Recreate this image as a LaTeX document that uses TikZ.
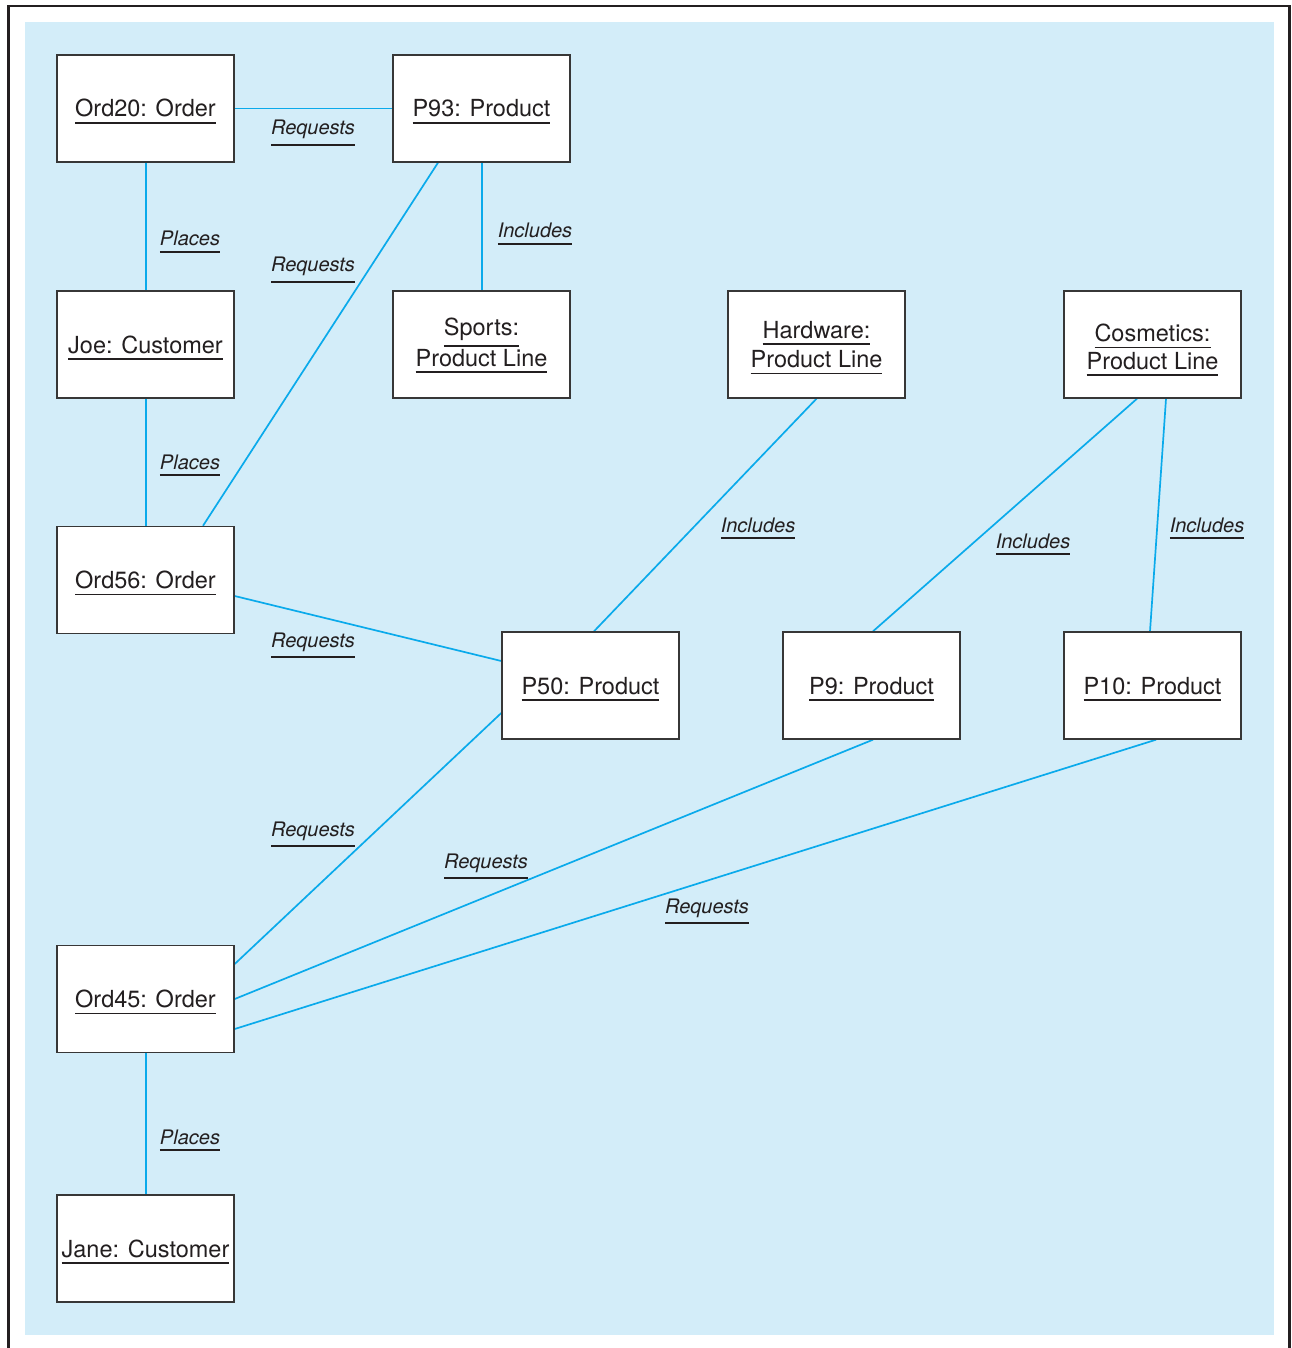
\documentclass[tikz,border=0pt]{standalone}
\usepackage{fontspec}
\setmainfont{TeX Gyre Heros}
\usetikzlibrary{calc}
\definecolor{bgblue}{RGB}{211,237,249}
\definecolor{linkcol}{RGB}{10,170,235}
\definecolor{ink}{RGB}{35,31,32}
\definecolor{boxline}{RGB}{55,55,55}
\newcommand\ulx[1]{\leavevmode\vtop{\hbox{#1}\kern4.8pt\hrule height 1.6pt}}
\pgfdeclarelayer{back}
\pgfdeclarelayer{lines}
\pgfsetlayers{back,lines,main}
\tikzset{
  objbox/.style={draw=boxline, line width=1.4pt, fill=white, rectangle,
    minimum width=177pt, minimum height=107pt, inner sep=0pt},
  objtext/.style={anchor=base, inner sep=0pt, text=ink,
    font=\fontsize{23.5pt}{28pt}\selectfont},
  linklabel/.style={anchor=base, inner sep=0pt, text=ink,
    font=\fontsize{20pt}{24pt}\selectfont\itshape},
  link/.style={draw=linkcol, line width=1.7pt},
  vlink/.style={draw=linkcol, line width=2pt}
}
\begin{document}
\begin{tikzpicture}[x=1pt,y=-1pt]
\useasboundingbox (0,0) rectangle (1291,1348);
\begin{pgfonlayer}{back}
\fill[bgblue] (25,22) rectangle (1274,1335);
\draw[ink, line width=2.5pt] (8.5,1348) -- (8.5,6) -- (1289.5,6) -- (1289.5,1348);
\end{pgfonlayer}

% boxes
\node[objbox] (ord20) at (145.5,108.5) {};
\node[objbox] (p93)   at (481.5,108.5) {};
\node[objbox] (joe)   at (145.5,344.5) {};
\node[objbox] (sports) at (481.5,344.5) {};
\node[objbox] (hard)  at (816.5,344.5) {};
\node[objbox] (cosm)  at (1152.5,344.5) {};
\node[objbox] (ord56) at (145.5,580) {};
\node[objbox] (p50)   at (590.5,685.5) {};
\node[objbox] (p9)    at (871.5,685.5) {};
\node[objbox] (p10)   at (1152.5,685.5) {};
\node[objbox] (ord45) at (145.5,999) {};
\node[objbox] (jane)  at (145.5,1248.5) {};

% box texts
\node[objtext] (ord20t) at ([yshift=-8.5pt]ord20.center) {\ulx{Ord20: Order}};
\node[objtext] (p93t) at ([yshift=-8.5pt]p93.center) {\ulx{P93: Product}};
\node[objtext] (joet) at ([yshift=-8.5pt]joe.center) {\ulx{Joe: Customer}};
\node[objtext] (sportsa) at ([yshift=9.5pt]sports.center) {\ulx{Sports:}};
\node[objtext] (sportsb) at ([yshift=-21.5pt]sports.center) {\ulx{Product Line}};
\node[objtext] (harda) at ([yshift=6.5pt]hard.center) {\ulx{Hardware:}};
\node[objtext] (hardb) at ([yshift=-23pt]hard.center) {\ulx{Product Line}};
\node[objtext] (cosma) at ([yshift=3pt]cosm.center) {\ulx{Cosmetics:}};
\node[objtext] (cosmb) at ([yshift=-24.5pt]cosm.center) {\ulx{Product Line}};
\node[objtext] (ord56t) at ([yshift=-8.5pt]ord56.center) {\ulx{Ord56: Order}};
\node[objtext] (p50t) at ([yshift=-8.5pt]p50.center) {\ulx{P50: Product}};
\node[objtext] (p9t) at ([yshift=-8.5pt]p9.center) {\ulx{P9: Product}};
\node[objtext] (p10t) at ([yshift=-8.5pt]p10.center) {\ulx{P10: Product}};
\node[objtext] (ord45t) at ([yshift=-8.5pt]ord45.center) {\ulx{Ord45: Order}};
\node[objtext] (janet) at ([yshift=-8.5pt]jane.center) {\ulx{Jane: Customer}};

% connectors
\begin{pgfonlayer}{lines}
\draw[link] (ord20.east) -- (p93.west);
\draw[vlink] ([xshift=0.5pt]ord20.south) -- ([xshift=0.5pt]joe.north);
\draw[vlink] ([xshift=0.5pt]p93.south) -- ([xshift=0.5pt]sports.north);
\draw[link] ([xshift=-43.5pt]p93.south) -- ([xshift=57.5pt]ord56.north);
\draw[vlink] ([xshift=0.5pt]joe.south) -- ([xshift=0.5pt]ord56.north);
\draw[link] (hard.south) -- ([xshift=3.5pt]p50.north);
\draw[link] ([xshift=-15.5pt]cosm.south) -- ([xshift=1.5pt]p9.north);
\draw[link] ([xshift=13.5pt]cosm.south) -- ([xshift=-2.5pt]p10.north);
\draw[link] ([yshift=-16pt]ord56.east) -- ([yshift=24.5pt]p50.west);
\draw[link] ([yshift=-27.5pt]p50.west) -- ([yshift=35pt]ord45.east);
\draw[link] ([xshift=1.5pt]p9.south) -- (ord45.east);
\draw[link] ([xshift=3.5pt]p10.south) -- ([yshift=-30pt]ord45.east);
\draw[vlink] ([xshift=0.5pt]ord45.south) -- ([xshift=0.5pt]jane.north);
\end{pgfonlayer}

% connector labels
\node[linklabel] (l1) at (313,135) {\ulx{Requests}};
\node[linklabel] (l2) at (190,246) {\ulx{Places}};
\node[linklabel] (l3) at (535,238) {\ulx{Includes}};
\node[linklabel] (l4) at (313,272) {\ulx{Requests}};
\node[linklabel] (l5) at (190,469) {\ulx{Places}};
\node[linklabel] (l6) at (758,532) {\ulx{Includes}};
\node[linklabel] (l7) at (1033,548) {\ulx{Includes}};
\node[linklabel] (l8) at (1207,532) {\ulx{Includes}};
\node[linklabel] (l9) at (313,647) {\ulx{Requests}};
\node[linklabel] (l10) at (313,836) {\ulx{Requests}};
\node[linklabel] (l11) at (486,868) {\ulx{Requests}};
\node[linklabel] (l12) at (707,913) {\ulx{Requests}};
\node[linklabel] (l13) at (190,1144) {\ulx{Places}};
\end{tikzpicture}
\end{document}
